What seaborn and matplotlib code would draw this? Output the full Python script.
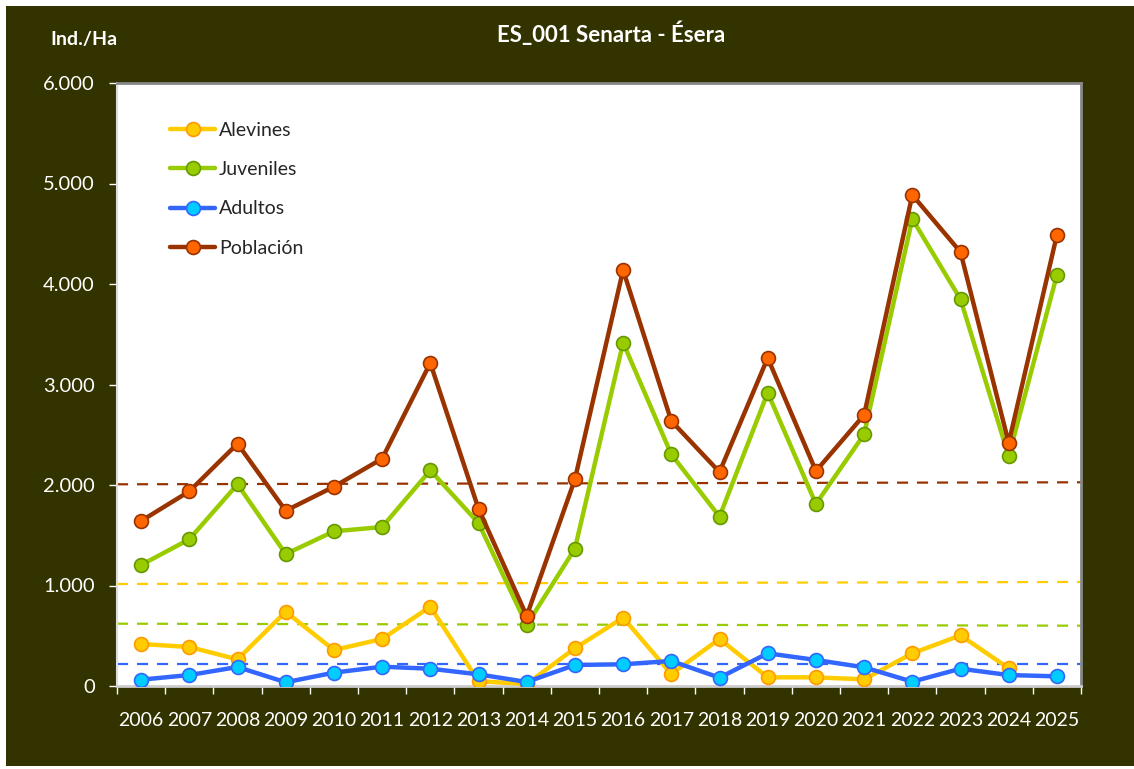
import numpy as np
import pandas as pd
import seaborn as sns
import matplotlib.pyplot as plt
from matplotlib.patches import Rectangle
from matplotlib.ticker import FuncFormatter, FixedLocator

# data
years = [str(y) for y in range(2006, 2026)]
alevines = [418, 388, 265, 739, 358, 468, 789, 47, 20, 375,
            680, 119, 468, 86, 86, 66, 325, 504, 176, np.nan]
juveniles = [1204, 1460, 2007, 1313, 1539, 1582, 2146, 1622, 607, 1366,
             3416, 2305, 1685, 2918, 1811, 2504, 4647, 3848, 2286, 4090]
adultos = [63, 109, 189, 37, 133, 192, 172, 116, 40, 209,
           216, 249, 83, 325, 259, 186, 43, 172, 109, 96]
poblacion = [1642, 1937, 2411, 1744, 1983, 2262, 3214, 1764, 697, 2057,
             4139, 2637, 2129, 3264, 2139, 2697, 4886, 4318, 2418, 4488]

series_names = ["Alevines", "Juveniles", "Adultos", "Población"]
# dashed reference lines (value at left edge, value at right edge)
ref_start = [1015, 620, 219, 2007]
ref_end = [1035, 600, 219, 2027]

line_colors = ["#FFCC00", "#99CC00", "#3366FF", "#993300"]
face_colors = ["#FFCC00", "#99CC00", "#00CCFF", "#FF6600"]
edge_colors = ["#FF9900", "#669900", "#3366FF", "#993300"]

bg = "#333300"

df = pd.DataFrame({"year": years, "Alevines": alevines, "Juveniles": juveniles,
                   "Adultos": adultos, "Población": poblacion})
df["pos"] = np.arange(len(years))

sns.set_style("white")
plt.rcParams["font.family"] = ["Lato", "DejaVu Sans"]

fig = plt.figure(figsize=(11.34, 7.69), dpi=100)
fig.patch.set_facecolor("white")
fig.patches.append(Rectangle((6 / 1134, 3 / 769), 1, 1 - 9 / 769, transform=fig.transFigure,
                             facecolor=bg, edgecolor="none", zorder=-10))

ax = fig.add_axes([117 / 1134, 83 / 769, 964 / 1134, 603 / 769])
ax.set_facecolor("white")

# reference lines first so series sit on top
ax.set_xlim(-0.5, len(years) - 0.5)
x0, x1 = ax.get_xlim()
for i in range(4):
    ax.plot([x0, x1], [ref_start[i], ref_end[i]], color=line_colors[i],
            lw=1.6, dashes=(5, 4), zorder=1)

# later series drawn on top, like the original
for i, name in enumerate(series_names):
    sns.lineplot(data=df, x="pos", y=name, ax=ax, color=line_colors[i], lw=3.2,
                 marker="o", markersize=10, markerfacecolor=face_colors[i],
                 markeredgecolor=edge_colors[i], markeredgewidth=1.2,
                 label=name, zorder=3 + i * 0.1)

ax.set_xlim(x0, x1)
ax.set_ylim(0, 6000)
ax.set_xlabel("")
ax.set_ylabel("")

ax.set_xticks(df["pos"])
ax.set_xticklabels(years)
ax.xaxis.set_minor_locator(FixedLocator(np.arange(-0.5, len(years), 1)))
ax.tick_params(axis="x", which="major", length=0, pad=19, labelsize=14, labelcolor="white")
ax.tick_params(axis="x", which="minor", length=6, width=1, color="white",
               direction="out", bottom=True)
ax.set_yticks(range(0, 6001, 1000))
ax.yaxis.set_major_formatter(FuncFormatter(lambda v, p: f"{int(v):,}".replace(",", ".")))
ax.tick_params(axis="y", length=6, width=1, color="white", direction="out", pad=10,
               labelsize=14.5, labelcolor="white", left=True)

for s in ["top", "right"]:
    ax.spines[s].set_color("#888888")
    ax.spines[s].set_linewidth(2)
ax.spines["left"].set_color("#dddddd")
ax.spines["bottom"].set_color("#cccccc")
ax.spines["left"].set_linewidth(1.5)
ax.spines["bottom"].set_linewidth(2)

leg = ax.legend(loc="upper left", bbox_to_anchor=(0.037, 0.965), frameon=False,
                fontsize=14, handlelength=2.3, handletextpad=0.2, labelspacing=1.15)

fig.text(611 / 1134, 1 - 34 / 769, "ES_001 Senarta - Ésera", color="white",
         fontsize=16, fontweight="bold", ha="center", va="center")
fig.text(50 / 1134, 1 - 40 / 769, "Ind./Ha", color="white",
         fontsize=14, fontweight="bold", ha="left", va="center")

fig.savefig("out.png", dpi=100, facecolor=fig.get_facecolor())
